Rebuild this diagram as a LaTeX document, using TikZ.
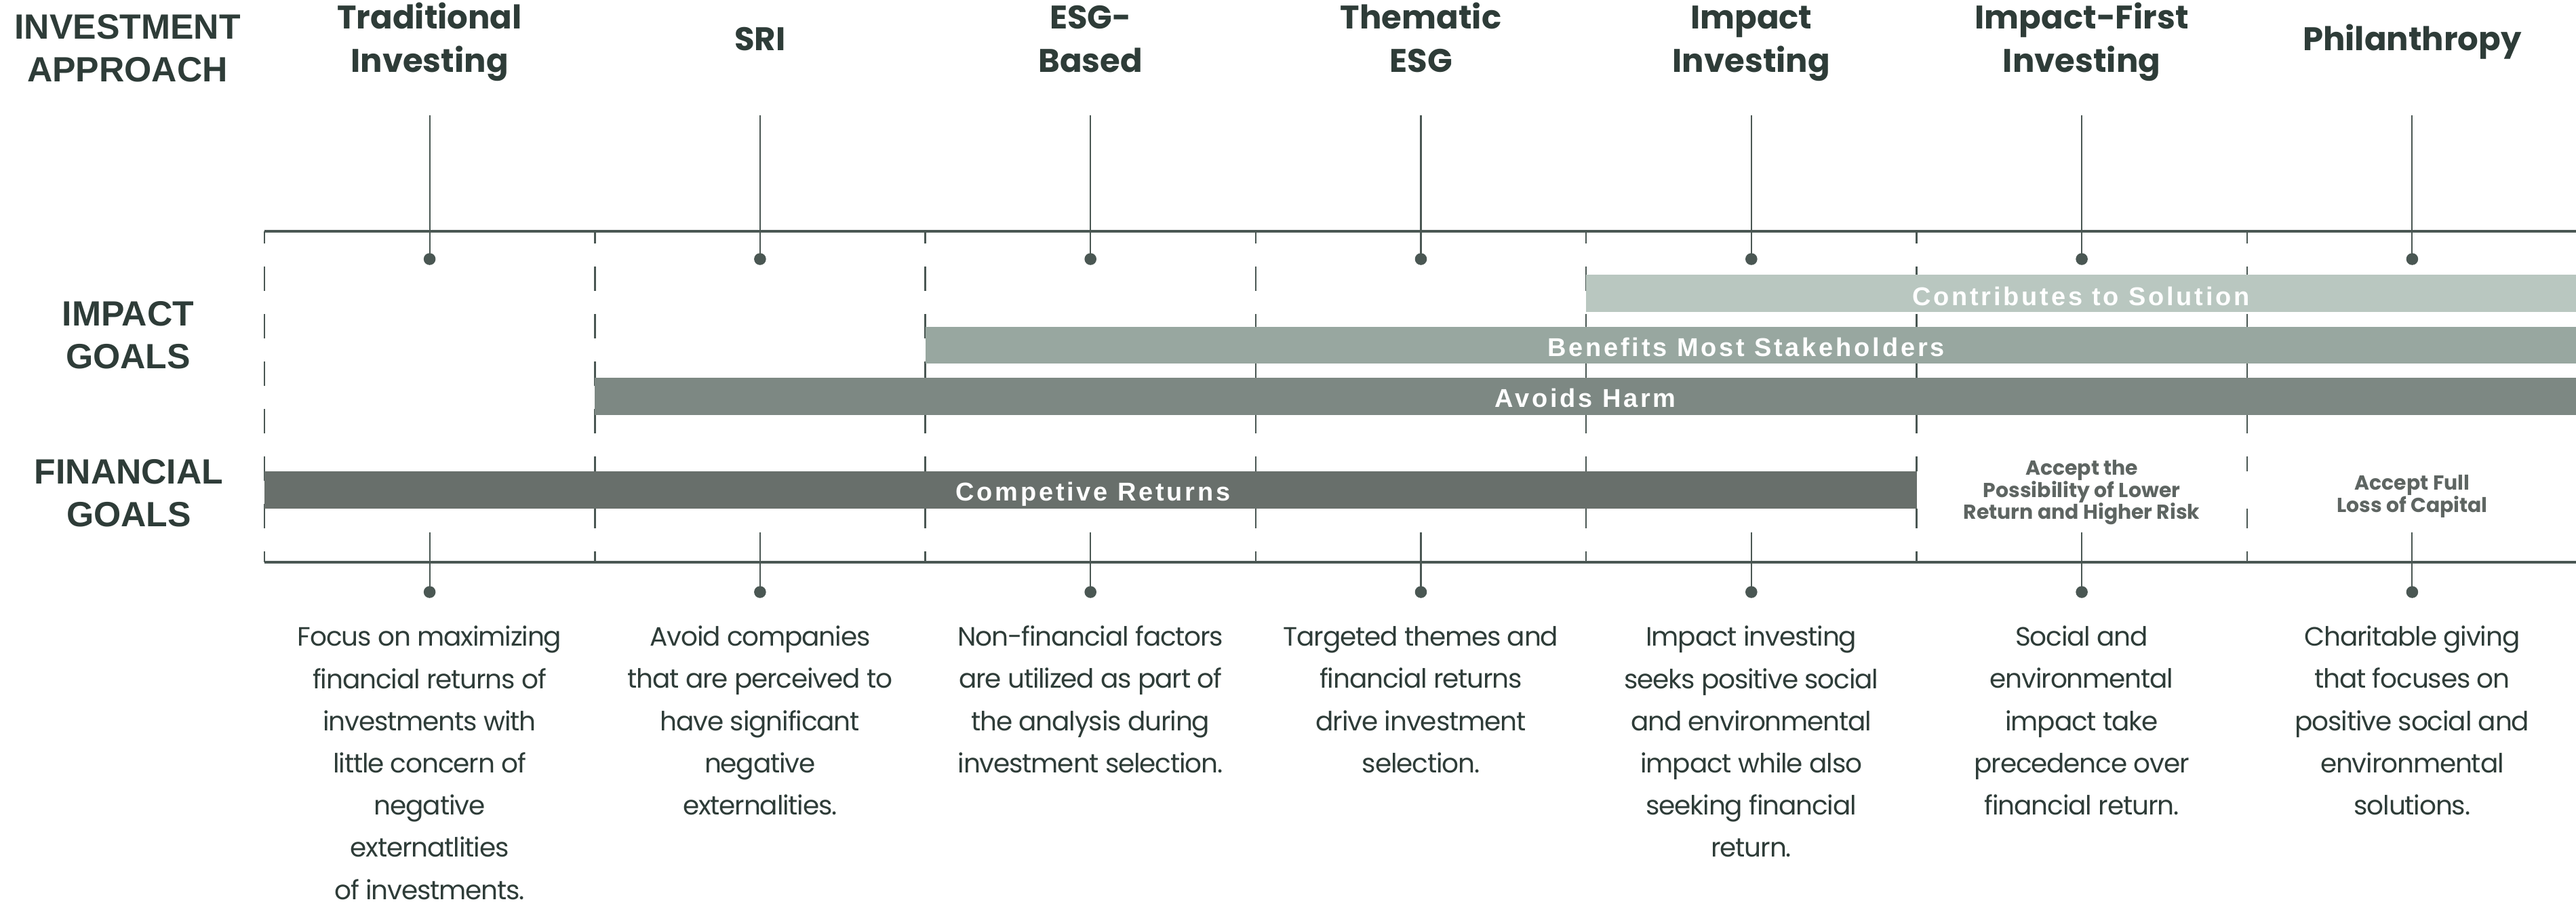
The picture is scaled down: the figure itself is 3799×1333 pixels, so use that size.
\documentclass[tikz,border=0pt]{standalone}
\usepackage{fontspec}
\setmainfont{Poppins}
\newfontfamily\descfont{Poppins}[LetterSpace=-3]
\newfontfamily\gridsans{Liberation Sans}
\newfontfamily\barsans{Liberation Sans}[LetterSpace=10]
\definecolor{ink}{HTML}{2E3C38}
\definecolor{rulec}{HTML}{4A5753}
\definecolor{notec}{HTML}{5E6562}
\definecolor{barA}{HTML}{B9C7C0}
\definecolor{barB}{HTML}{98A7A0}
\definecolor{barC}{HTML}{7D8883}
\definecolor{barD}{HTML}{686F6B}
% invisible strut so that a node's north edge sits 1em above its first baseline
\newcommand\leadstrut{\rule{0pt}{1em}}
\begin{document}
\begin{tikzpicture}[x=0.01cm,y=-0.01cm,
  axis/.style={draw=rulec,line width=1.1pt},
  stem/.style={draw=rulec,line width=0.6pt},
  pin/.style={circle,fill=rulec,inner sep=0pt,minimum size=5pt},
  divider/.style={draw=rulec,line width=0.7pt,dash pattern=on 10.2pt off 9.7pt,dash phase=5.1pt},
  head/.style={anchor=north,align=center,inner sep=0pt,text=ink,font=\bfseries\fontsize{13.7}{18.2}\selectfont},
  side/.style={anchor=north,align=center,inner sep=0pt,text=ink,font=\gridsans\bfseries\fontsize{14.7}{17.9}\selectfont},
  desc/.style={anchor=north,align=center,inner sep=0pt,text=ink,font=\descfont\fontsize{11.1}{17.7}\selectfont},
  note/.style={anchor=north,align=center,inner sep=0pt,text=notec,font=\bfseries\fontsize{8.5}{9.25}\selectfont},
  barlabel/.style={anchor=base,inner sep=0pt,text=white,font=\barsans\bfseries\fontsize{10.8}{12}\selectfont},
]
\useasboundingbox[fill=white] (0,0) rectangle (3799,1333);

% row labels on the left
\node[side] (lapp) at (188,5) {\leadstrut INVESTMENT\\APPROACH};
\node[side] (limp) at (189,428) {\leadstrut IMPACT\\GOALS};
\node[side] (lfin) at (190,661) {\leadstrut FINANCIAL\\GOALS};

% column headers
\node[head] (h1) at (633.6,-6) {\leadstrut Traditional\\Investing};
\node[head] (h2) at (1120.9,26) {\leadstrut SRI};
\node[head] (h3) at (1608.2,-6) {\leadstrut ESG-\\Based};
\node[head] (h4) at (2095.5,-6) {\leadstrut Thematic\\ESG};
\node[head] (h5) at (2582.8,-6) {\leadstrut Impact\\Investing};
\node[head] (h6) at (3070.1,-6) {\leadstrut Impact-First\\Investing};
\node[head] (h7) at (3557.4,26) {\leadstrut Philanthropy};

% dashed column dividers
\foreach \k/\x in {0/390,1/877.3,2/1364.6,3/1851.9,4/2339.2,5/2826.5,6/3313.8}{
  \coordinate (dvt\k) at (\x,341);
  \coordinate (dvb\k) at (\x,829);
  \draw[divider] (dvt\k) -- (dvb\k);
}

% goal bars
\fill[white] (2826.5,695) rectangle (3799,750);
\fill[barD] (390,695) rectangle (2826.5,750);
\fill[barC] (877.3,557) rectangle (3799,612);
\fill[barB] (1364.6,482) rectangle (3799,536);
\fill[barA] (2339.2,405) rectangle (3799,460);
\node[barlabel] (bA) at (3069,450) {Contributes to Solution};
\node[barlabel] (bB) at (2575,525) {Benefits Most Stakeholders};
\node[barlabel] (bC) at (2338,600) {Avoids Harm};
\node[barlabel] (bD) at (1612,738) {Competive Returns};

% financial notes
\node[note] (n6) at (3070.1,670) {\leadstrut Accept the\\Possibility of Lower\\Return and Higher Risk};
\node[note] (n7) at (3557.4,692) {\leadstrut Accept Full\\Loss of Capital};

% horizontal axes
\coordinate (atl) at (390,341);
\coordinate (atr) at (3799,341);
\coordinate (abl) at (390,829);
\coordinate (abr) at (3799,829);
\draw[axis] (atl) -- (atr);
\draw[axis] (abl) -- (abr);

% pins above and below
\foreach \i/\x in {1/633.6,2/1120.9,3/1608.2,4/2095.5,5/2582.8,6/3070.1,7/3557.4}{
  \coordinate (ts\i) at (\x,170);
  \node[pin] (tp\i) at (\x,382) {};
  \draw[stem] (ts\i) -- (tp\i.center);
  \coordinate (bs\i) at (\x,785);
  \node[pin] (bp\i) at (\x,873) {};
  \draw[stem] (bs\i) -- (bp\i.center);
}

% descriptions
\node[desc] (d1) at (633.6,913) {\leadstrut Focus on maximizing\\financial returns of\\investments with\\little concern of\\negative\\externatlities\\of investments.};
\node[desc] (d2) at (1120.9,913) {\leadstrut Avoid companies\\that are perceived to\\have significant\\negative\\externalities.};
\node[desc] (d3) at (1608.2,913) {\leadstrut Non-financial factors\\are utilized as part of\\the analysis during\\investment selection.};
\node[desc] (d4) at (2095.5,913) {\leadstrut Targeted themes and\\financial returns\\drive investment\\selection.};
\node[desc] (d5) at (2582.8,913) {\leadstrut Impact investing\\seeks positive social\\and environmental\\impact while also\\seeking financial\\return.};
\node[desc] (d6) at (3070.1,913) {\leadstrut Social and\\environmental\\impact take\\precedence over\\financial return.};
\node[desc] (d7) at (3557.4,913) {\leadstrut Charitable giving\\that focuses on\\positive social and\\environmental\\solutions.};
\end{tikzpicture}
\end{document}
